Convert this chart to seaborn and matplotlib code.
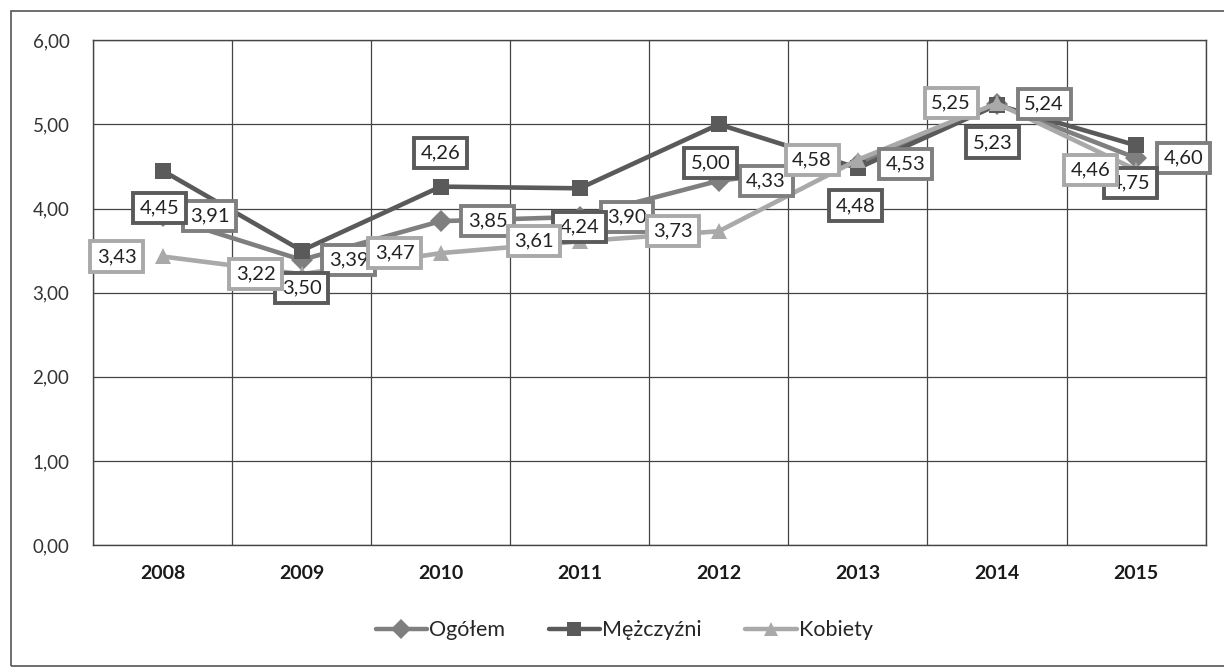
import numpy as np
import pandas as pd
import seaborn as sns
import matplotlib.pyplot as plt
from matplotlib.lines import Line2D
from matplotlib.patches import Rectangle

# data
years = ['2008', '2009', '2010', '2011', '2012', '2013', '2014', '2015']
ogolem = [3.91, 3.39, 3.85, 3.90, 4.33, 4.53, 5.24, 4.60]
mezczyzni = [4.45, 3.50, 4.26, 4.24, 5.00, 4.48, 5.23, 4.75]
kobiety = [3.43, 3.22, 3.47, 3.61, 3.73, 4.58, 5.25, 4.46]
series_names = ['Ogółem', 'Mężczyźni', 'Kobiety']

sns.set_style('white')
plt.rcParams['font.family'] = ['Lato', 'DejaVu Sans']

colors = {'Ogółem': '#7f7f7f', 'Mężczyźni': '#5a5a5a', 'Kobiety': '#a9a9a9'}
markers = {'Ogółem': 'D', 'Mężczyźni': 's', 'Kobiety': '^'}

rows = []
for name, vals in zip(series_names, [ogolem, mezczyzni, kobiety]):
    for i, v in enumerate(vals):
        rows.append({'pos': i, 'year': years[i], 'value': v, 'series': name})
df = pd.DataFrame(rows)

fig = plt.figure(figsize=(12.24, 6.69), dpi=100)
ax = fig.add_axes([0.076, 0.185, 0.909, 0.755])

sns.lineplot(data=df, x='pos', y='value', hue='series', style='series',
             hue_order=series_names, style_order=series_names,
             palette=colors, markers=markers, dashes=False,
             linewidth=3.3, markersize=11, markeredgewidth=0,
             legend=False, ax=ax)

ax.set_xlim(-0.5, len(years) - 0.5)
ax.set_ylim(0, 6)
ax.set_xticks(range(len(years)))
ax.set_xticklabels(years, fontsize=14, fontweight='bold', color='#1a1a1a')
ax.set_xticks(np.arange(-0.5, len(years)), minor=True)
ax.set_yticks(np.arange(0, 7, 1))
ax.set_yticklabels([f'{v:.2f}'.replace('.', ',') for v in range(7)], fontsize=13.5, color='#333333')
ax.tick_params(axis='x', which='major', length=0, pad=14)
ax.tick_params(axis='x', which='minor', length=6, color='#555555', direction='out')
ax.tick_params(axis='y', length=7, color='#555555', direction='out', pad=10)
ax.set_xlabel('')
ax.set_ylabel('')
ax.grid(True, axis='y', color='#444444', linewidth=0.9)
ax.grid(True, axis='x', which='minor', color='#444444', linewidth=0.9)
for sp in ax.spines.values():
    sp.set_color('#444444')
    sp.set_linewidth(1.0)
ax.set_axisbelow(True)

# data labels: Ogółem right, Mężczyźni below (2010 above), Kobiety left
offsets = {
    'Ogółem': [(34, 0)] * 8,
    'Mężczyźni': [(-2, -27), (0, -27), (0, 24), (0, -28), (-6, -28), (-2, -27), (-3, -27), (-4, -27)],
    'Kobiety': [(-33, 0)] * 8,
}
for z, (name, vals) in enumerate(zip(series_names, [ogolem, mezczyzni, kobiety])):
    for i, v in enumerate(vals):
        ax.annotate(f'{v:.2f}'.replace('.', ','), (i, v), xytext=offsets[name][i],
                    textcoords='offset points', ha='center', va='center',
                    fontsize=14.5, color='#222222', zorder=5 + z,
                    bbox=dict(boxstyle='square,pad=0.33', fc='white',
                              ec=colors[name], lw=2.8))

handles = [Line2D([0], [0], color=colors[n], marker=markers[n], lw=3.2,
                  markersize=10, markeredgewidth=0) for n in series_names]
fig.legend(handles, series_names, loc='center', bbox_to_anchor=(0.51, 0.058),
           ncol=3, frameon=False, fontsize=15.5, handlelength=2.4,
           handletextpad=0.1, columnspacing=2.0)

fig.patches.append(Rectangle((11 / 1224, 3 / 669), 1.2, 1 - 14 / 669,
                             transform=fig.transFigure, fill=False,
                             ec='#555555', lw=1.2))

fig.savefig('out.png', dpi=100)
